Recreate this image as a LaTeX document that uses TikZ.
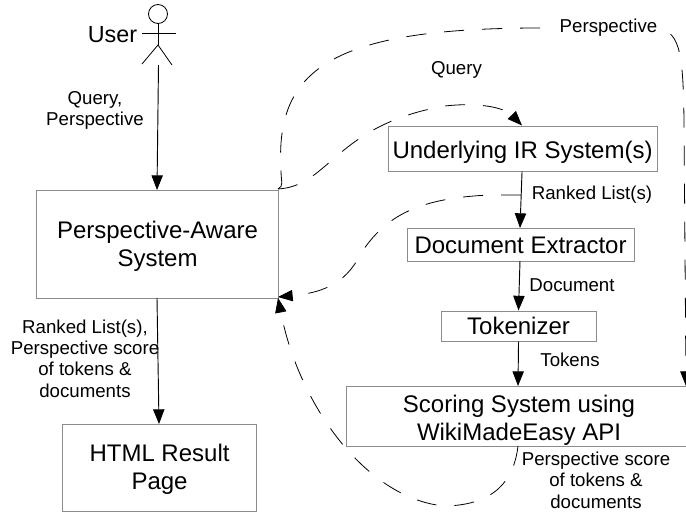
\documentclass[tikz,border=0pt]{standalone}
\usepackage{xcolor}
\usepackage{fontspec}
\setmainfont{Liberation Sans}
\usetikzlibrary{arrows.meta}
\tikzset{
    sysBox/.style={draw=black!45, line width=0.8pt, align=center, inner sep=0pt, anchor=north west, font=\fontsize{18}{21}\selectfont},
    flowLabel/.style={align=center, inner sep=0pt, font=\fontsize{14}{16}\selectfont},
    solidFlow/.style={draw=black, line width=0.7pt, -{Triangle[length=11pt,width=8.5pt]}},
    dashFlow/.style={draw=black, line width=0.6pt, dash pattern=on 15pt off 13.5pt},
    dashHead/.style={-{Triangle[length=11pt,width=8.5pt]}}
}
\begin{document}
\begin{tikzpicture}[x=0.75pt,y=-0.75pt]
    \useasboundingbox (0,0) rectangle (686,514);
    \clip (0,0) rectangle (686,514);

    \node[sysBox, minimum width=242*0.75pt, minimum height=108*0.75pt] (awareSystem) at (36,190) {\rule{0pt}{16pt}Perspective-Aware\\System};
    \node[sysBox, minimum width=194*0.75pt, minimum height=87*0.75pt] (resultPage) at (62,424) {\rule{0pt}{15pt}HTML Result\\Page};
    \node[sysBox, minimum width=269*0.75pt, minimum height=45*0.75pt] (irSystem) at (387.5,125.5) {\rule{0pt}{18pt}Underlying IR System(s)};
    \node[sysBox, minimum width=227*0.75pt, minimum height=33*0.75pt] (docExtractor) at (406.5,228) {Document Extractor};
    \node[sysBox, minimum width=155*0.75pt, minimum height=30*0.75pt] (tokenizer) at (440.5,310.5) {Tokenizer};
    \node[sysBox, minimum width=345*0.75pt, minimum height=60*0.75pt] (scoringSystem) at (346,386) {\rule{0pt}{19pt}Scoring System using\\WikiMadeEasy API};

    % actor
    \node[circle, draw=black, line width=0.6pt, minimum size=19*0.75pt, inner sep=0pt] (userHead) at (158,14) {};
    \coordinate (userHip) at (158,45);
    \coordinate (userFoot) at (158.5,65);
    \draw[line width=0.6pt] (userHead.south) -- (userHip);
    \draw[line width=0.6pt] (142,33.5) -- (176,33.5);
    \draw[line width=0.6pt] (142,64) -- (userHip) -- (172,65);
    \node[inner sep=0pt, font=\fontsize{17.5}{20}\selectfont] (userName) at (112.5,35) {User};

    % solid arrows
    \draw[solidFlow] (userFoot) -- (awareSystem.north -| 157,0);
    \draw[solidFlow] (157,298) -- (159,424);
    \draw[solidFlow] (irSystem.south) ++(-0.5,0) -- (520,228);
    \draw[solidFlow] (520,261) -- (518.5,310.5);
    \draw[solidFlow] (tokenizer.south) -- (518,386);

    % dashed arrows
    \coordinate (awareCorner) at (278,189);
    \coordinate (awareLower) at (278,297);
    \coordinate (scoreExit) at (518,446);
    \coordinate (rankedTap) at (521,195);
    \draw[dashFlow, dashHead] (awareCorner) .. controls (330,186) and (335,125) .. (445,106)
        .. controls (480,102) and (505,108) .. (522,125.5);
    \draw[dashFlow, dashHead] (awareCorner) .. controls (284,186) and (281,182) .. (281,170)
        .. controls (275,70) and (330,28) .. (540,28) -- (652,28)
        .. controls (680,28) and (683,50) .. (684,120) -- (686,386);
    \draw[dashFlow, dashHead] (rankedTap) -- (490,195) .. controls (420,198) and (385,215) .. (360,255)
        .. controls (345,285) and (320,293) .. (awareLower);
    \draw[dashFlow, dashHead] (scoreExit) .. controls (514,480) and (495,505) .. (445,506)
        .. controls (370,500) and (300,410) .. (278,298);

    % labels
    \node[flowLabel] (queryPerspective) at (95,110.5) {Query,\\Perspective};
    \node[flowLabel, fill=white, inner xsep=2pt] (perspectiveLabel) at (608.5,28) {Perspective};
    \node[flowLabel] (queryLabel) at (456.5,70) {Query};
    \node[flowLabel] (rankedLabel) at (592,195) {Ranked List(s)};
    \node[flowLabel] (documentLabel) at (572,285) {Document};
    \node[flowLabel] (tokensLabel) at (570,360) {Tokens};
    \node[flowLabel] (resultLabel) at (85,358.5) {Ranked List(s),\\Perspective score\\of tokens \&\\documents};
    \node[flowLabel] (scoreLabel) at (596,480) {Perspective score\\of tokens \&\\documents};
\end{tikzpicture}
\end{document}
